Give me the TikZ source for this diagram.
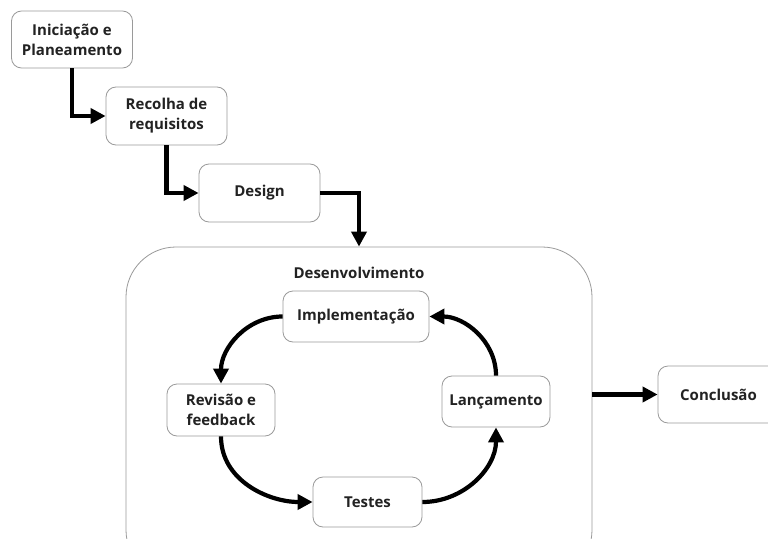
\documentclass[tikz,border=0pt]{standalone}
\usepackage{fontspec}
\setmainfont{Open Sans}
\usetikzlibrary{arrows.meta}
\definecolor{bordergray}{HTML}{9A9A9A}
\definecolor{textgray}{HTML}{222222}
\tikzset{
  box/.style={draw=bordergray, line width=0.8pt, rounded corners=10pt, fill=white,
    align=center, inner sep=2pt, text=textgray,
    font=\fontsize{15}{20}\selectfont\bfseries},
  flow/.style={line width=4.2pt, -{Triangle[length=15pt,width=15pt]}, black},
  container/.style={draw=bordergray, line width=0.8pt, rounded corners=50pt},
  lbl/.style={text=textgray, font=\fontsize{15}{20}\selectfont\bfseries}
}
\begin{document}
\begin{tikzpicture}[x=1pt,y=-1pt]
\useasboundingbox (0,0) rectangle (768,538);
\clip (0,0) rectangle (768,538);
\fill[white] (0,0) rectangle (768,538);
% container
\node[container, minimum width=466pt, minimum height=333pt] (dev) at (359,413.5) {};
\node[lbl] (devlbl) at (359,273) {Desenvolvimento};
% top chain
\node[box, minimum width=121pt, minimum height=57pt] (init) at (72,39.5) {Iniciação e\\Planeamento};
\node[box, minimum width=121pt, minimum height=58pt] (rec) at (166.5,116) {Recolha de\\requisitos};
\node[box, minimum width=121pt, minimum height=58pt] (des) at (259.5,193) {Design};
\node[box, minimum width=121pt, minimum height=57pt] (conc) at (718.5,394.5) {Conclusão};
% inner cycle
\node[box, minimum width=146pt, minimum height=51pt] (impl) at (356,316.5) {Implementação};
\node[box, minimum width=108pt, minimum height=52pt] (rev) at (221,410) {Revisão e\\feedback};
\node[box, minimum width=108pt, minimum height=51pt] (lanc) at (496,401.5) {Lançamento};
\node[box, minimum width=109pt, minimum height=50pt] (test) at (367.5,502) {Testes};
% connectors
\draw[flow] (init.south) |- (rec.west);
\draw[flow] (rec.south) |- (des.west);
\draw[flow] (des.east) -| (dev.north);
\draw[flow] (conc.west -| dev.east) -- (conc.west);
\draw[flow] (impl.west) to[out=180,in=90] (rev.north);
\draw[flow] (rev.south) to[out=-90,in=180] (test.west);
\draw[flow] (test.east) to[out=0,in=-90] (lanc.south);
\draw[flow] (lanc.north) to[out=90,in=0] (impl.east);
\end{tikzpicture}
\end{document}
